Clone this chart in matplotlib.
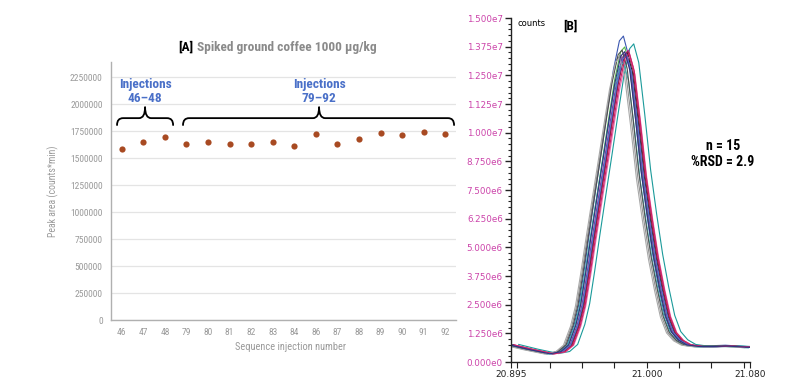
import numpy as np
import matplotlib
matplotlib.use("Agg")
import matplotlib.pyplot as plt
from matplotlib.path import Path
from matplotlib.patches import PathPatch
from matplotlib.ticker import FuncFormatter, MultipleLocator, FixedLocator
from matplotlib.font_manager import fontManager

# ---------------- Data: panel A ----------------
injections = ["46", "47", "48", "79", "80", "81", "82", "83", "84", "86", "87", "88", "89", "90", "91", "92"]
peak_area = [1583000, 1648000, 1692000, 1630000, 1648000, 1633000, 1630000, 1648000,
             1614000, 1719000, 1630000, 1676000, 1734000, 1713000, 1737000, 1719000]
group_labels = ["Injections\n46\u201348", "Injections\n79\u201392"]
a_yticks = [0, 250000, 500000, 750000, 1000000, 1250000, 1500000, 1750000, 2000000, 2250000]

# ---------------- Data: panel B ----------------
rt_profile = [20.8950, 20.9097, 20.9259, 20.9344, 20.9406, 20.9461, 20.9499, 20.9538,
              20.9577, 20.9623, 20.9670, 20.9716, 20.9763, 20.9809, 20.9840, 20.9879,
              20.9925, 20.9971, 21.0018, 21.0064, 21.0111, 21.0157, 21.0204, 21.0258,
              21.0320, 21.0413, 21.0529, 21.0629, 21.0722, 21.0807]
counts_profile = [0.75e6, 0.55e6, 0.36e6, 0.45e6, 0.75e6, 1.6e6, 2.5e6, 3.9e6,
                  5.4e6, 7.1e6, 8.8e6, 10.5e6, 12.2e6, 13.4e6, 13.6e6, 12.8e6,
                  10.6e6, 8.2e6, 6.3e6, 4.6e6, 3.2e6, 2.0e6, 1.3e6, 0.95e6,
                  0.75e6, 0.68e6, 0.68e6, 0.70e6, 0.67e6, 0.64e6]
trace_shift = [-0.0020, 0.0060, -0.0010, 0.0020, 0.0010, -0.0040, 0.0015, 0.0000,
               0.0030, -0.0020, -0.0030, 0.0005, -0.0050, 0.0025, -0.0010]
trace_scale = [1.045, 1.020, 1.010, 1.000, 0.990, 0.985, 0.995, 0.990,
               0.980, 0.960, 1.000, 0.985, 0.975, 0.990, 0.995]
trace_colors = ["#3a56b0", "#1a9a9a", "#58b848", "#c02890", "#202020", "#909090",
                "#8a1c3c", "#7a3a9a", "#e070b0", "#40b0b0", "#505050", "#5070d0",
                "#a8a8a8", "#d02060", "#303080"]
n_text = "n = 15\n%RSD = 2.9"

GREY = "#9a9a9a"
BLUE = "#4a70c8"
MAG = "#cc44aa"

installed = {f.name for f in fontManager.ttflist}
COND = [f for f in ["Liberation Sans Narrow", "Roboto Condensed", "DejaVu Sans Condensed"]
        if f in installed] + ["Roboto", "DejaVu Sans"]

fig = plt.figure(figsize=(7.87, 3.81), dpi=100)

# ---------------- Panel A ----------------
axA = fig.add_axes([111/787, 1-320/381, (456-111)/787, (320-62)/381])
xs = np.arange(len(injections))
axA.scatter(xs, peak_area, s=20, color="#a84a22", zorder=3, linewidths=0)
axA.set_xlim(-0.5, len(injections) - 0.5)
axA.set_ylim(0, 2.39e6)
axA.set_xticks(xs)
axA.set_xticklabels(injections)
axA.set_yticks(a_yticks)
axA.set_yticklabels([str(v) for v in a_yticks])
axA.tick_params(length=0, colors=GREY, labelsize=6.8, pad=6)
for lab in axA.get_xticklabels() + axA.get_yticklabels():
    lab.set_family(COND)
axA.yaxis.grid(True, color="#e4e4e4", lw=0.9)
axA.set_axisbelow(True)
for s in ["top", "right"]:
    axA.spines[s].set_visible(False)
for s in ["left", "bottom"]:
    axA.spines[s].set_color("#b0b0b0")
    axA.spines[s].set_linewidth(1.0)
axA.set_xlabel("Sequence injection number", color=GREY, fontsize=7.5, labelpad=3, family=COND)
axA.xaxis.set_label_coords(0.52, -0.085)
axA.set_ylabel("Peak area (counts*min)", color=GREY, fontsize=7, labelpad=8, family=COND)

def brace(ax, x0, x1, xm, yb, yh, yt, r=0.28):
    verts = [(x0, yb), (x0, yh), (x0 + r, yh),
             (xm - r, yh), (xm, yh), (xm, yt),
             (xm, yh), (xm + r, yh),
             (x1 - r, yh), (x1, yh), (x1, yb)]
    codes = [Path.MOVETO, Path.CURVE3, Path.CURVE3,
             Path.LINETO, Path.CURVE3, Path.CURVE3,
             Path.CURVE3, Path.CURVE3,
             Path.LINETO, Path.CURVE3, Path.CURVE3]
    ax.add_patch(PathPatch(Path(verts, codes), fill=False, lw=1.3, color="black",
                           capstyle="round", joinstyle="round", zorder=4))

brace(axA, -0.22, 2.38, 1.08, 1.806e6, 1.870e6, 1.972e6)
brace(axA, 2.84, 15.41, 9.15, 1.806e6, 1.870e6, 1.972e6)
axA.text(1.08, 2.116e6, group_labels[0], color=BLUE, fontsize=9.6, fontweight="bold",
         ha="center", va="center", linespacing=1.05, family=COND)
axA.text(9.15, 2.116e6, group_labels[1], color=BLUE, fontsize=9.6, fontweight="bold",
         ha="center", va="center", linespacing=1.05, family=COND)

tA = fig.text(178/787, 1-47/381, "[A]", color="black", fontsize=9.6, fontweight="bold",
              ha="left", va="center", family=COND)
fig.canvas.draw()
bb = tA.get_window_extent()
fig.text((bb.x1 + 3.5)/787, 1-47/381, "Spiked ground coffee 1000 \u00b5g/kg", color="#8a8a8a",
         fontsize=9.6, fontweight="bold", ha="left", va="center", family=COND)

# ---------------- Panel B ----------------
axB = fig.add_axes([511/787, 1-362/381, (750-511)/787, (362-18)/381])
rt = np.array(rt_profile)
cp = np.array(counts_profile)
for sh, sc, col in zip(trace_shift, trace_scale, trace_colors):
    axB.plot(rt + sh, cp * sc, color=col, lw=0.8)
axB.set_xlim(20.895, 21.080)
axB.set_ylim(0, 1.5e7)
for s in ["top", "right"]:
    axB.spines[s].set_visible(False)
for s in ["left", "bottom"]:
    axB.spines[s].set_color("#222222")
    axB.spines[s].set_linewidth(1.0)

axB.yaxis.set_major_locator(MultipleLocator(1.25e6))
axB.yaxis.set_minor_locator(MultipleLocator(0.25e6))

def sci(v, pos=None):
    if v == 0:
        return "0.000e0"
    e = int(np.floor(np.log10(abs(v)) + 1e-9))
    m = v / 10**e
    return f"{m:.3f}e{e}"

axB.yaxis.set_major_formatter(FuncFormatter(sci))
axB.tick_params(axis="y", which="major", length=4, width=1, colors="#222222",
                labelcolor=MAG, labelsize=6.3, pad=2)
axB.tick_params(axis="y", which="minor", length=2, width=0.8, colors="#222222")

axB.xaxis.set_major_locator(FixedLocator([20.895, 21.000, 21.080]))
axB.xaxis.set_major_formatter(FuncFormatter(lambda v, p: f"{v:.3f}"))
axB.xaxis.set_minor_locator(FixedLocator([20.900, 20.925, 20.950, 20.975, 21.025, 21.050, 21.075]))
axB.tick_params(axis="x", which="both", length=4, width=0.8, colors="#222222",
                labelsize=6.5, pad=2)

fig.text(517/787, 1-24/381, "counts", fontsize=6, color="black", ha="left", va="center")
fig.text(570/787, 1-26/381, "[B]", fontsize=9.5, fontweight="bold", color="black",
         ha="center", va="center", family=COND)
fig.text(723/787, 1-154/381, n_text, fontsize=10, fontweight="bold", color="black",
         ha="center", va="center", linespacing=1.15, family=COND)

fig.savefig("out.png", dpi=100)
